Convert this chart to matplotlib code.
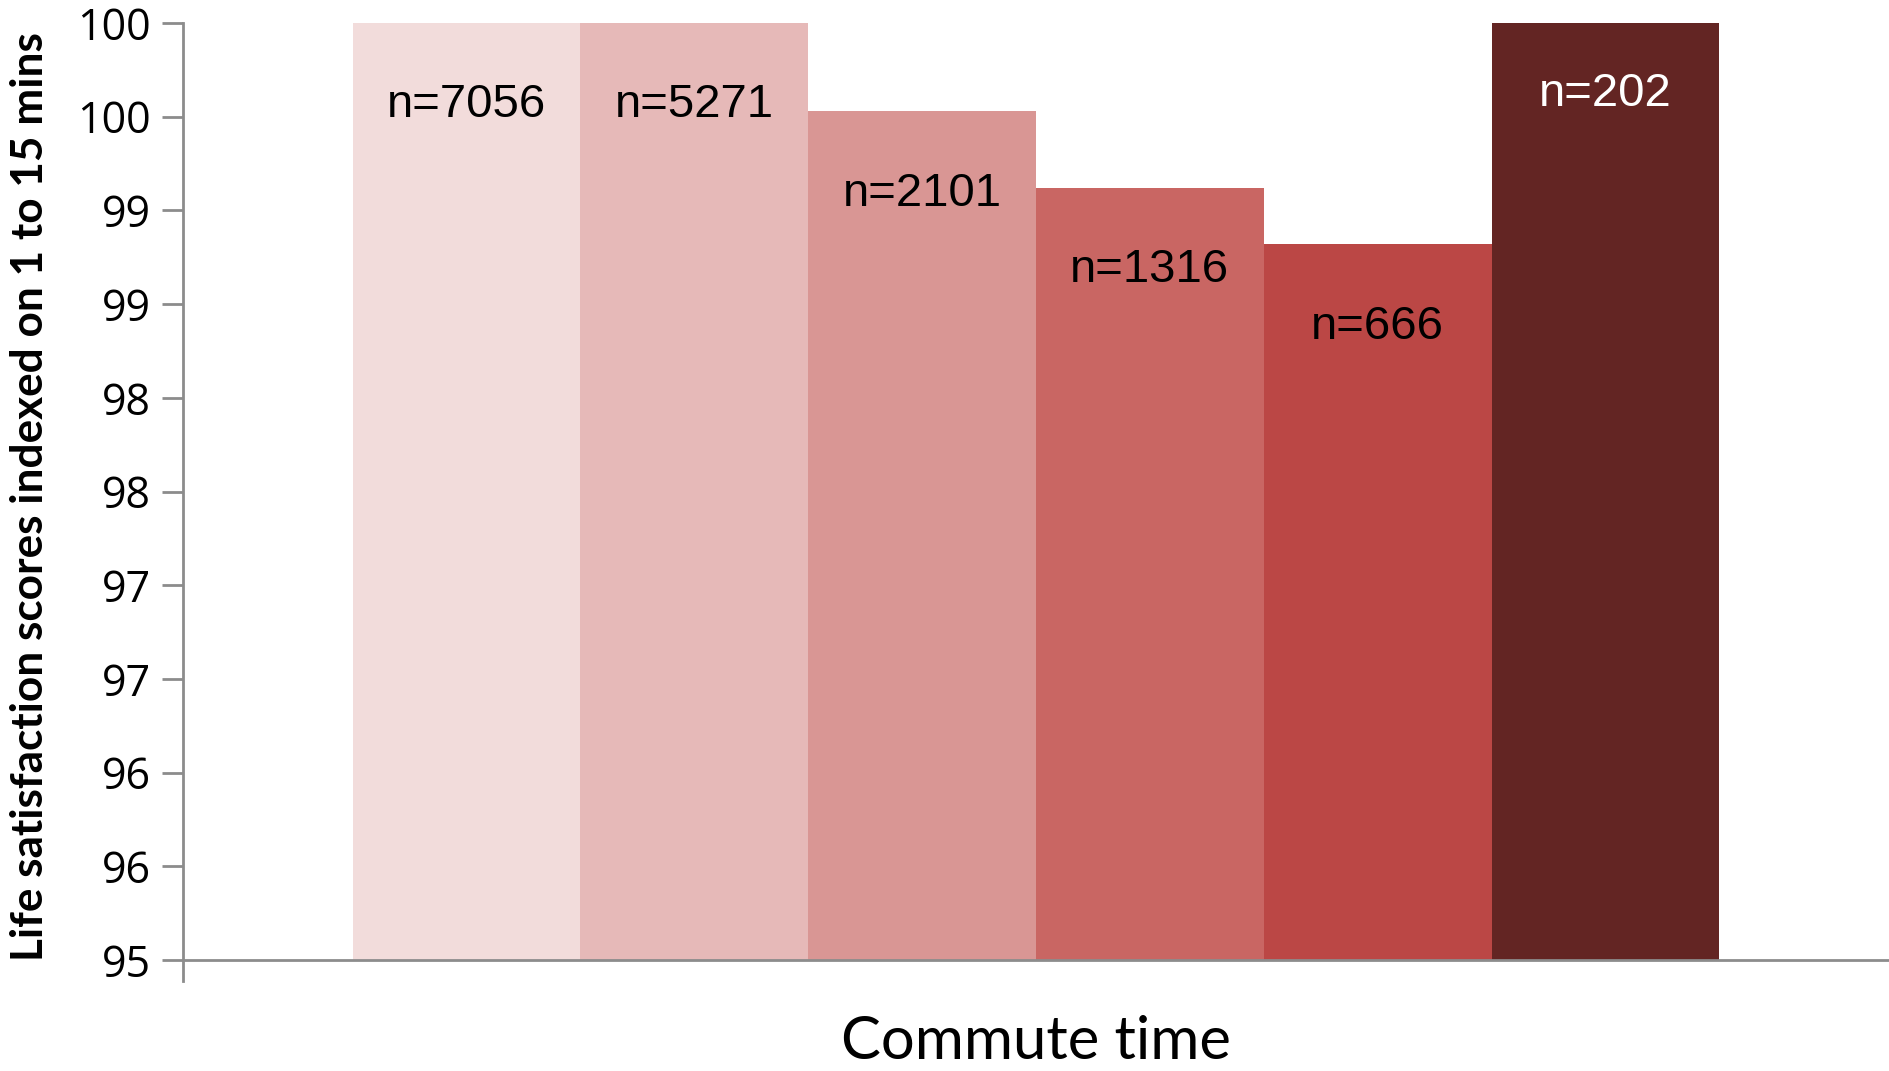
import numpy as np
import matplotlib
matplotlib.use("Agg")
import matplotlib.pyplot as plt

# commute time groups (shortest to longest), index relative to 1-15 mins
values = [100.0, 100.0, 99.53, 99.12, 98.82, 100.06]
n_labels = ["n=7056", "n=5271", "n=2101", "n=1316", "n=666", "n=202"]
colors = ["#F2DCDB", "#E6B9B8", "#D99694", "#C96663", "#BB4745", "#632523"]
label_colors = ["black", "black", "black", "black", "black", "white"]
yticks = [95, 95.5, 96, 96.5, 97, 97.5, 98, 98.5, 99, 99.5, 100]
ytick_labels = ["95", "96", "96", "97", "97", "98", "98", "99", "99", "100", "100"]

fig = plt.figure(figsize=(18.89, 10.71), dpi=100)
ax = fig.add_axes([183/1889, 1 - 981/1071, 1 - 183/1889, (981 - 23)/1071])

x = np.arange(len(values))
ymin, ymax = 94.888, 100.0
ax.bar(x, np.array(values) - 95, bottom=95, width=1.0, color=colors, linewidth=0)
ax.set_xlim(-1.245, 6.245)
ax.set_ylim(ymin, ymax)

# labels sit a fixed distance below the (true) bar value
for xi, v, lab, c in zip(x, values, n_labels, label_colors):
    ax.text(xi, v - 0.44, lab, ha="center", va="center", fontsize=34, color=c,
            family="Liberation Sans")

ax.set_yticks(yticks)
ax.set_yticklabels(ytick_labels, family="Open Sans", fontsize=31)
ax.set_xticks([])
ax.tick_params(axis="y", length=15, width=2, color="#8C8C8C", pad=8)

for s in ["top", "right"]:
    ax.spines[s].set_visible(False)
ax.spines["left"].set_color("#8C8C8C")
ax.spines["left"].set_linewidth(2)
ax.spines["bottom"].set_color("#8C8C8C")
ax.spines["bottom"].set_linewidth(2)
ax.spines["bottom"].set_position(("data", 95))

fig.text(30/1889, 1 - 497/1071, "Life satisfaction scores indexed on 1 to 15 mins",
         rotation=90, ha="center", va="center", fontsize=31.8, fontweight="bold",
         family="Lato")
fig.text(1036/1889, 1 - 1042/1071, "Commute time", ha="center", va="center",
         fontsize=43, family="Lato")

fig.savefig("out.png", dpi=100)
